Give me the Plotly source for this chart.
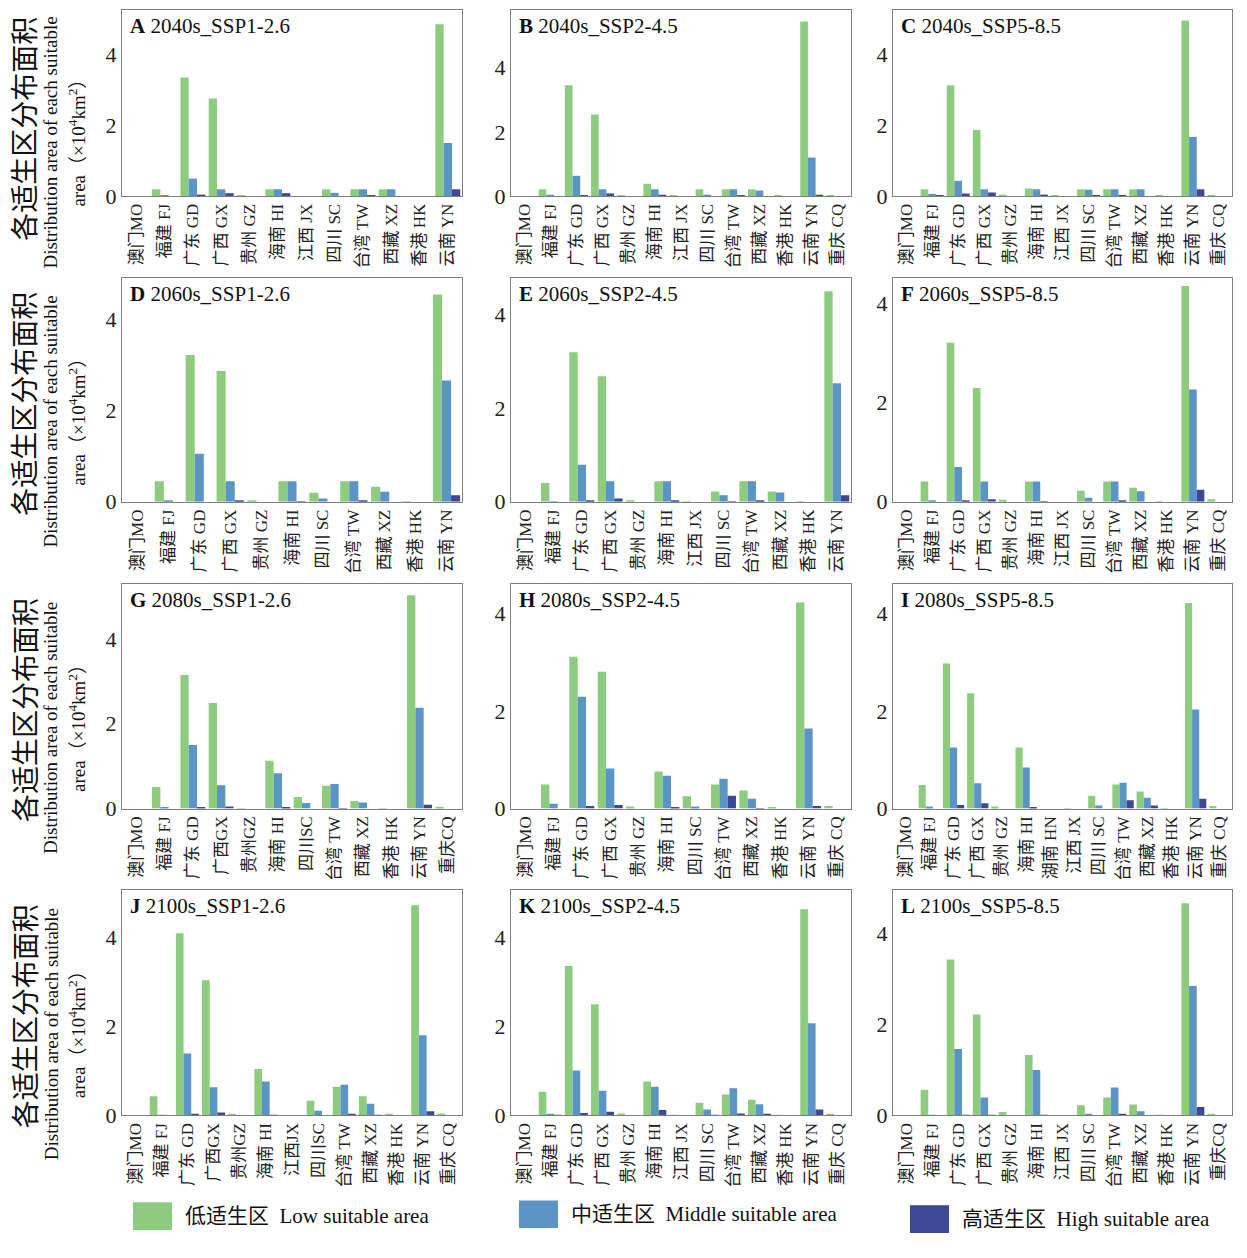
import plotly.graph_objects as go

# ---- datos: areas (x10^4 km2) por provincia ----
cats_A = ["澳门MO", "福建 FJ", "广东 GD", "广西 GX", "贵州 GZ", "海南 HI", "江西 JX",
          "四川 SC", "台湾 TW", "西藏 XZ", "香港 HK", "云南 YN"]
low_A = [0, 0.19, 3.35, 2.76, 0.01, 0.19, 0, 0.19, 0.19, 0.19, 0, 4.86]
mid_A = [0, 0.02, 0.49, 0.19, 0, 0.19, 0, 0.09, 0.19, 0.19, 0, 1.50]
high_A = [0, 0, 0.04, 0.08, 0, 0.08, 0, 0, 0.02, 0, 0, 0.19]

cats_B = ["澳门MO", "福建 FJ", "广东 GD", "广西 GX", "贵州 GZ", "海南 HI", "江西 JX",
          "四川 SC", "台湾 TW", "西藏 XZ", "香港 HK", "云南 YN", "重庆 CQ"]
low_B = [0, 0.21, 3.45, 2.54, 0.02, 0.38, 0.01, 0.21, 0.21, 0.21, 0.02, 5.44, 0.02]
mid_B = [0, 0.04, 0.63, 0.21, 0, 0.21, 0, 0.04, 0.21, 0.17, 0, 1.20, 0]
high_B = [0, 0, 0.03, 0.08, 0, 0.04, 0, 0, 0.02, 0, 0, 0.04, 0]

cats_C = cats_B
low_C = [0, 0.19, 3.13, 1.87, 0.04, 0.21, 0.01, 0.19, 0.19, 0.19, 0.01, 4.96, 0.02]
mid_C = [0, 0.06, 0.43, 0.19, 0, 0.19, 0, 0.18, 0.19, 0.19, 0, 1.67, 0]
high_C = [0, 0.01, 0.07, 0.10, 0, 0.04, 0, 0.01, 0.03, 0, 0, 0.19, 0]

cats_D = ["澳门MO", "福建 FJ", "广东 GD", "广西 GX", "贵州 GZ", "海南 HI",
          "四川 SC", "台湾 TW", "西藏 XZ", "香港 HK", "云南 YN"]
low_D = [0, 0.45, 3.21, 2.86, 0.03, 0.45, 0.20, 0.45, 0.33, 0.01, 4.53]
mid_D = [0, 0.02, 1.05, 0.45, 0, 0.45, 0.07, 0.45, 0.22, 0, 2.65]
high_D = [0, 0, 0, 0.02, 0, 0.01, 0, 0.02, 0, 0, 0.14]

cats_E = cats_A
low_E = [0, 0.40, 3.19, 2.68, 0.03, 0.44, 0.01, 0.22, 0.44, 0.22, 0.01, 4.49]
mid_E = [0, 0.01, 0.79, 0.44, 0, 0.44, 0, 0.14, 0.44, 0.20, 0, 2.53]
high_E = [0, 0, 0.03, 0.07, 0, 0.03, 0, 0.01, 0.02, 0, 0, 0.14]

cats_F = cats_B
low_F = [0, 0.41, 3.20, 2.29, 0.04, 0.41, 0, 0.22, 0.41, 0.28, 0.01, 4.34, 0.05]
mid_F = [0, 0.03, 0.70, 0.41, 0, 0.41, 0, 0.08, 0.41, 0.21, 0, 2.26, 0]
high_F = [0, 0, 0.03, 0.05, 0, 0.01, 0, 0, 0.03, 0, 0, 0.24, 0]

cats_G = ["澳门MO", "福建 FJ", "广东 GD", "广西GX", "贵州GZ", "海南 HI",
          "四川SC", "台湾 TW", "西藏 XZ", "香港 HK", "云南 YN", "重庆CQ"]
low_G = [0, 0.51, 3.15, 2.49, 0.01, 1.13, 0.27, 0.54, 0.18, 0.01, 5.03, 0.04]
mid_G = [0, 0.02, 1.50, 0.55, 0, 0.83, 0.13, 0.58, 0.14, 0, 2.38, 0]
high_G = [0, 0, 0.02, 0.05, 0, 0.02, 0, 0.01, 0, 0, 0.09, 0]

cats_H = ["澳门MO", "福建 FJ", "广东 GD", "广西 GX", "贵州 GZ", "海南 HI",
          "四川 SC", "台湾 TW", "西藏 XZ", "香港 HK", "云南 YN", "重庆 CQ"]
low_H = [0, 0.49, 3.11, 2.80, 0.04, 0.76, 0.25, 0.49, 0.37, 0.03, 4.22, 0.05]
mid_H = [0, 0.10, 2.29, 0.82, 0, 0.67, 0.04, 0.61, 0.20, 0, 1.64, 0]
high_H = [0, 0, 0.05, 0.07, 0, 0.02, 0, 0.26, 0.01, 0, 0.05, 0]

cats_I = ["澳门MO", "福建 FJ", "广东 GD", "广西 GX", "贵州 GZ", "海南 HI", "湖南 HN",
          "江西 JX", "四川 SC", "台湾 TW", "西藏 XZ", "香港 HK", "云南 YN", "重庆 CQ"]
low_I = [0, 0.48, 2.97, 2.36, 0.04, 1.25, 0, 0.01, 0.26, 0.49, 0.35, 0.01, 4.21, 0.05]
mid_I = [0, 0.04, 1.25, 0.52, 0, 0.84, 0, 0, 0.06, 0.53, 0.22, 0, 2.03, 0]
high_I = [0, 0, 0.07, 0.11, 0, 0.03, 0, 0, 0, 0.17, 0.06, 0, 0.20, 0]

cats_J = ["澳门MO", "福建 FJ", "广东 GD", "广西GX", "贵州GZ", "海南 HI", "江西JX",
          "四川SC", "台湾 TW", "西藏 XZ", "香港 HK", "云南 YN", "重庆 CQ"]
low_J = [0, 0.43, 4.10, 3.04, 0.03, 1.04, 0, 0.33, 0.64, 0.43, 0.02, 4.73, 0.04]
mid_J = [0, 0.01, 1.39, 0.63, 0, 0.76, 0, 0.10, 0.69, 0.26, 0, 1.80, 0]
high_J = [0, 0, 0.03, 0.06, 0, 0.01, 0, 0, 0.02, 0.01, 0, 0.09, 0]

cats_K = cats_B
low_K = [0, 0.53, 3.36, 2.50, 0.04, 0.76, 0.01, 0.28, 0.47, 0.35, 0.01, 4.64, 0.03]
mid_K = [0, 0.03, 1.01, 0.55, 0, 0.64, 0, 0.13, 0.61, 0.25, 0, 2.07, 0]
high_K = [0, 0.01, 0.05, 0.08, 0, 0.12, 0, 0.01, 0.04, 0.02, 0, 0.13, 0]

cats_L = ["澳门MO", "福建 FJ", "广东 GD", "广西 GX", "贵州 GZ", "海南 HI", "江西 JX",
          "四川 SC", "台湾 TW", "西藏 XZ", "香港 HK", "云南 YN", "重庆CQ"]
low_L = [0, 0.56, 3.43, 2.22, 0.07, 1.33, 0, 0.22, 0.39, 0.24, 0.01, 4.67, 0.03]
mid_L = [0, 0.01, 1.46, 0.39, 0, 1.00, 0, 0.03, 0.61, 0.09, 0, 2.85, 0]
high_L = [0, 0, 0.01, 0.01, 0, 0.01, 0, 0, 0.02, 0, 0, 0.18, 0]

titles = ["2040s_SSP1-2.6", "2040s_SSP2-4.5", "2040s_SSP5-8.5",
          "2060s_SSP1-2.6", "2060s_SSP2-4.5", "2060s_SSP5-8.5",
          "2080s_SSP1-2.6", "2080s_SSP2-4.5", "2080s_SSP5-8.5",
          "2100s_SSP1-2.6", "2100s_SSP2-4.5", "2100s_SSP5-8.5"]
letras = list("ABCDEFGHIJKL")
series_names = ["低适生区  Low suitable area", "中适生区  Middle suitable area",
                "高适生区  High suitable area"]

paneles = [
    (cats_A, low_A, mid_A, high_A), (cats_B, low_B, mid_B, high_B), (cats_C, low_C, mid_C, high_C),
    (cats_D, low_D, mid_D, high_D), (cats_E, low_E, mid_E, high_E), (cats_F, low_F, mid_F, high_F),
    (cats_G, low_G, mid_G, high_G), (cats_H, low_H, mid_H, high_H), (cats_I, low_I, mid_I, high_I),
    (cats_J, low_J, mid_J, high_J), (cats_K, low_K, mid_K, high_K), (cats_L, low_L, mid_L, high_L),
]

# ---- estilo / posiciones (pixeles de la ventana; el body tiene 8px de margen) ----
OFF = 8
W, H = 1247 - 2 * OFF, 1258 - 2 * OFF


def px(x):
    return (x - OFF) / W


def py(y):
    return 1 - (y - OFF) / H


colores = ["#8DCB7E", "#5A95C5", "#3E4894"]
y_max = [5.26, 5.8, 5.26, 4.89, 4.77, 4.5, 5.3, 4.6, 4.6, 5.08, 5.08, 4.97]
cols_px = [(122, 462), (511, 851), (893, 1232)]
rows_px = [(10, 198), (281, 507), (590, 817), (899, 1127)]
# desplazamiento vertical de los titulos del eje y (chino, ingles)
tit_off = [(26, 40), (14, 32), (14, 32), (14, 32)]
serif = "Liberation Serif, Noto Sans CJK SC"
gris = "#808080"

fig = go.Figure()
anotaciones = []

for k, (cats, low, mid, high) in enumerate(paneles):
    r, c = k // 3, k % 3
    n = k + 1
    xa = "x" if n == 1 else "x%d" % n
    ya = "y" if n == 1 else "y%d" % n
    for vals, col, name in zip([low, mid, high], colores, series_names):
        fig.add_trace(go.Bar(x=cats, y=vals, name=name, marker_color=col,
                             marker_line_width=0, xaxis=xa, yaxis=ya, showlegend=False))
    x0, x1 = cols_px[c]
    y0, y1 = rows_px[r]
    key = "" if n == 1 else str(n)
    fig.update_layout({
        "xaxis" + key: dict(domain=[px(x0), px(x1)], anchor=ya, type="category",
                            showline=True, mirror=True, linecolor=gris, linewidth=1,
                            showgrid=False, ticks="", tickangle=-90,
                            tickfont=dict(family=serif, size=17, color="#222")),
        "yaxis" + key: dict(domain=[py(y1), py(y0)], anchor=xa,
                            range=[0, y_max[k]], tickvals=[0, 2, 4],
                            showline=True, mirror=True, linecolor=gris, linewidth=1,
                            showgrid=False, zeroline=False, ticks="",
                            tickfont=dict(family=serif, size=22, color="#222")),
    })
    anotaciones.append(dict(xref="paper", yref="paper", x=px(x0 + 6), y=py(y0 + 2),
                            xanchor="left", yanchor="top", showarrow=False,
                            text="<b>%s</b> %s" % (letras[k], titles[k]),
                            font=dict(family=serif, size=21, color="#111")))

# titulos del eje y (solo primera columna)
for r, (y0, y1) in enumerate(rows_px):
    yc = (y0 + y1) / 2
    oc, oe = tit_off[r]
    comunes = dict(xref="paper", yref="paper", textangle=-90, showarrow=False,
                   xanchor="center", yanchor="middle")
    anotaciones.append(dict(comunes, x=px(26), y=py(yc + oc), text="各适生区分布面积",
                            font=dict(family=serif, size=28, color="#111")))
    anotaciones.append(dict(comunes, x=px(51), y=py(yc + oe),
                            text="Distribution area of each suitable",
                            font=dict(family=serif, size=19, color="#111")))
    anotaciones.append(dict(comunes, x=px(77), y=py(yc + oe - 4),
                            text="area（×10<sup>4</sup>km<sup>2</sup>）",
                            font=dict(family=serif, size=19, color="#111")))

# leyenda inferior
ley_pos = [(133, 1215), (519, 1213), (910, 1218)]
shapes = []
for (lx, ly), col, name in zip(ley_pos, colores, series_names):
    shapes.append(dict(type="rect", xref="paper", yref="paper", x0=px(lx), x1=px(lx + 39),
                       y0=py(ly + 28), y1=py(ly), fillcolor=col, line_width=0))
    anotaciones.append(dict(xref="paper", yref="paper", x=px(lx + 50), y=py(ly + 14),
                            xanchor="left", yanchor="middle", showarrow=False, text=name,
                            font=dict(family=serif, size=21, color="#111")))

fig.update_layout(width=W, height=H, margin=dict(l=0, r=0, t=0, b=0),
                  paper_bgcolor="white", plot_bgcolor="white",
                  barmode="group", bargap=0.12, bargroupgap=0,
                  annotations=anotaciones, shapes=shapes)

fig.write_html("out.html")
